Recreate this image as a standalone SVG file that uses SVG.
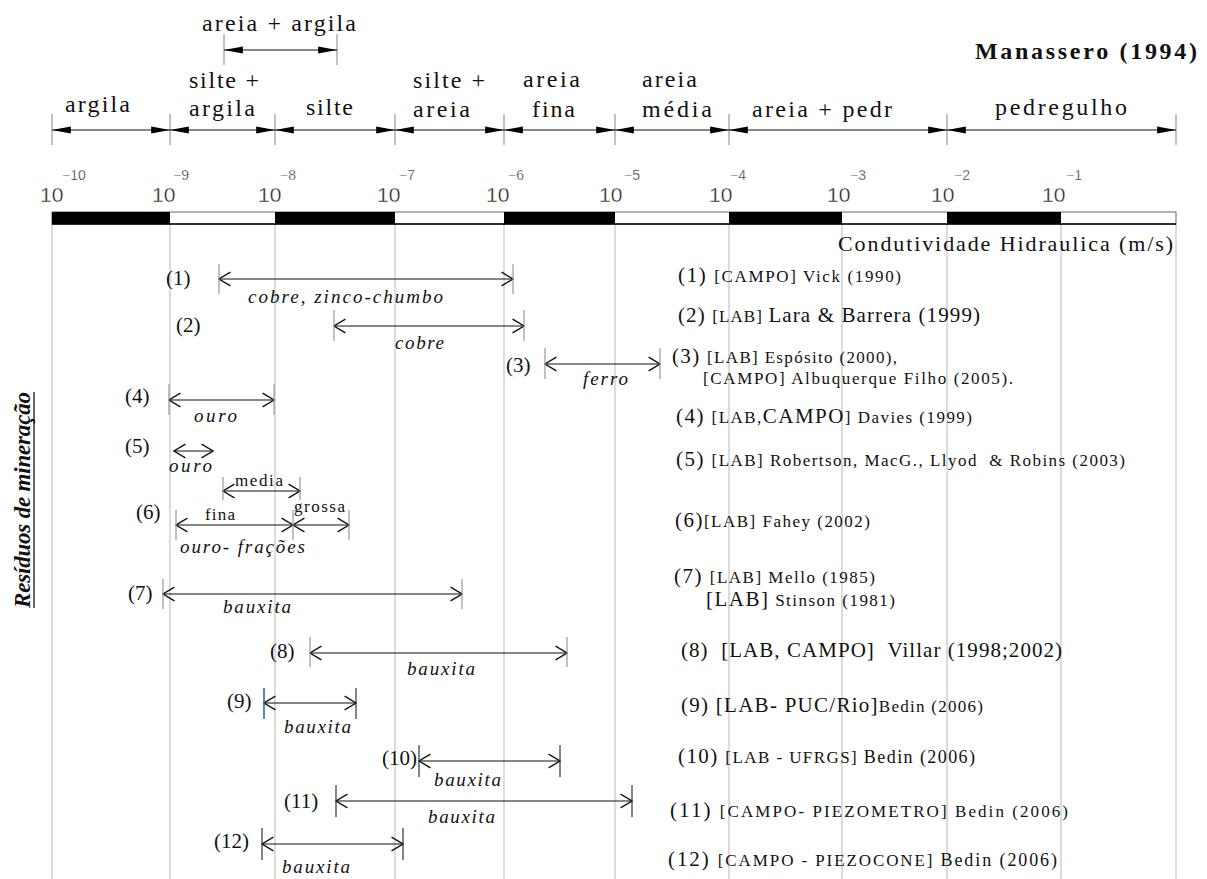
<svg xmlns="http://www.w3.org/2000/svg" width="1207" height="879" viewBox="0 0 1207 879">
<style>
.serif{font-family:"Liberation Serif","Times New Roman",serif;fill:#111}
.top{font-size:24px}
.sans{font-family:"Liberation Sans",Arial,sans-serif;fill:#222;stroke:#fff;stroke-width:0.35px}
.dec{font-size:21px}
.exp{font-size:14px}
.L{font-size:21px}
.S{font-size:17px}
.it{font-style:italic;font-size:19px}
.grid{stroke:#d0d0d0;stroke-width:1.5}
.tick{stroke:#999;stroke-width:1.2}
.dtick{stroke:#333;stroke-width:1.2}
.dim{stroke:#111;stroke-width:1;marker-start:url(#fa);marker-end:url(#fa)}
.rng{stroke:#111;stroke-width:1.2;marker-start:url(#oa);marker-end:url(#oa)}
</style>
<defs>
<marker id="fa" markerUnits="userSpaceOnUse" markerWidth="20" markerHeight="10" refX="16" refY="3.5" orient="auto-start-reverse" viewBox="0 0 17 7">
<path d="M0,0.5 L16,3.5 L0,6.5 Z" fill="#000"/>
</marker>
<marker id="oa" markerUnits="userSpaceOnUse" markerWidth="14" markerHeight="16" refX="11" refY="7" orient="auto-start-reverse" viewBox="0 0 12 14">
<path d="M1,1 L11,7 L1,13" fill="none" stroke="#111" stroke-width="1.2"/>
</marker>
</defs>
<rect width="1207" height="879" fill="#fff"/>

<g id="grid">
<line class="grid" x1="52" y1="224" x2="52" y2="879"/>
<line class="grid" x1="170" y1="224" x2="170" y2="879"/>
<line class="grid" x1="275" y1="224" x2="275" y2="879"/>
<line class="grid" x1="395" y1="224" x2="395" y2="879"/>
<line class="grid" x1="504" y1="224" x2="504" y2="879"/>
<line class="grid" x1="615" y1="224" x2="615" y2="879"/>
<line class="grid" x1="729" y1="224" x2="729" y2="879"/>
<line class="grid" x1="842" y1="224" x2="842" y2="879"/>
<line class="grid" x1="947" y1="224" x2="947" y2="879"/>
<line class="grid" x1="1061" y1="224" x2="1061" y2="879"/>
<line class="grid" x1="1176" y1="224" x2="1176" y2="879"/>
</g>

<g id="scale-bar">
<rect x="52" y="212" width="1124" height="12" fill="#fff" stroke="#666" stroke-width="1"/>
<rect x="52" y="212" width="118" height="12" fill="#000"/>
<rect x="275" y="212" width="120" height="12" fill="#000"/>
<rect x="504" y="212" width="111" height="12" fill="#000"/>
<rect x="729" y="212" width="113" height="12" fill="#000"/>
<rect x="947" y="212" width="114" height="12" fill="#000"/>
<line x1="52" y1="224" x2="1176" y2="224" stroke="#000" stroke-width="1.5"/>
</g>

<g id="scale-labels" class="sans">
<text class="dec" x="40" y="202">10</text><text class="exp" x="62" y="180">−10</text>
<text class="dec" x="152" y="202">10</text><text class="exp" x="173" y="180">−9</text>
<text class="dec" x="258" y="202">10</text><text class="exp" x="280" y="180">−8</text>
<text class="dec" x="377" y="202">10</text><text class="exp" x="399" y="180">−7</text>
<text class="dec" x="486" y="202">10</text><text class="exp" x="508" y="180">−6</text>
<text class="dec" x="599" y="202">10</text><text class="exp" x="624" y="180">−5</text>
<text class="dec" x="709" y="202">10</text><text class="exp" x="730" y="180">−4</text>
<text class="dec" x="827" y="202">10</text><text class="exp" x="850" y="180">−3</text>
<text class="dec" x="931" y="202">10</text><text class="exp" x="954" y="180">−2</text>
<text class="dec" x="1042" y="202">10</text><text class="exp" x="1066" y="180">−1</text>
</g>
<g id="axis-label">
<text class="serif" x="838" y="251" font-size="22" textLength="335">Condutividade Hidraulica (m/s)</text>
</g>

<g id="title">
<text class="serif" x="975" y="59" font-size="24" font-weight="bold" textLength="222">Manassero (1994)</text>
</g>

<g id="soil-classes">
<line class="tick" x1="52" y1="114" x2="52" y2="145"/>
<line class="tick" x1="170" y1="114" x2="170" y2="145"/>
<line class="tick" x1="275" y1="114" x2="275" y2="145"/>
<line class="tick" x1="395" y1="114" x2="395" y2="145"/>
<line class="tick" x1="504" y1="114" x2="504" y2="145"/>
<line class="tick" x1="615" y1="114" x2="615" y2="145"/>
<line class="tick" x1="729" y1="114" x2="729" y2="145"/>
<line class="tick" x1="947" y1="114" x2="947" y2="145"/>
<line class="tick" x1="1176" y1="114" x2="1176" y2="145"/>
<line class="tick" x1="224" y1="34" x2="224" y2="65"/>
<line class="tick" x1="337" y1="34" x2="337" y2="65"/>
<g class="serif top">
<text x="202" y="31" textLength="154">areia + argila</text>
<text x="65" y="112" textLength="65">argila</text>
<text x="189" y="88" textLength="70">silte +</text>
<text x="189" y="116" textLength="66">argila</text>
<text x="306" y="115" textLength="47">silte</text>
<text x="413" y="88" textLength="72">silte +</text>
<text x="413" y="117" textLength="57">areia</text>
<text x="523" y="87" textLength="57">areia</text>
<text x="532" y="117" textLength="43">fina</text>
<text x="642" y="87" textLength="55">areia</text>
<text x="642" y="117" textLength="70">média</text>
<text x="752" y="117" textLength="140">areia + pedr</text>
<text x="995" y="115" textLength="132">pedregulho</text>
</g>
</g>

<g id="connectors">
<line class="dim" x1="224" y1="50" x2="337" y2="50"/>
<line class="dim" x1="52" y1="130" x2="170" y2="130"/>
<line class="dim" x1="170" y1="130" x2="275" y2="130"/>
<line class="dim" x1="275" y1="130" x2="395" y2="130"/>
<line class="dim" x1="395" y1="130" x2="504" y2="130"/>
<line class="dim" x1="504" y1="130" x2="615" y2="130"/>
<line class="dim" x1="615" y1="130" x2="729" y2="130"/>
<line class="dim" x1="729" y1="130" x2="947" y2="130"/>
<line class="dim" x1="947" y1="130" x2="1176" y2="130"/>

<line class="rng" x1="219" y1="279" x2="513" y2="279"/>
<line class="rng" x1="334" y1="326" x2="524" y2="326"/>
<line class="rng" x1="545" y1="364" x2="660" y2="364"/>
<line class="rng" x1="169" y1="400" x2="274" y2="400"/>
<line class="rng" x1="174" y1="451" x2="213" y2="451"/>
<line class="rng" x1="223" y1="491" x2="300" y2="491" stroke-width="2"/>
<line class="rng" x1="176" y1="525" x2="293" y2="525"/>
<line class="rng" x1="293" y1="525" x2="349" y2="525"/>
<line class="rng" x1="163" y1="594" x2="462" y2="594"/>
<line class="rng" x1="310" y1="653" x2="567" y2="653"/>
<line class="rng" x1="264" y1="703" x2="356" y2="703" stroke-width="1.6"/>
<line class="rng" x1="419" y1="761" x2="560" y2="761"/>
<line class="rng" x1="336" y1="801" x2="632" y2="801"/>
<line class="rng" x1="262" y1="844" x2="403" y2="844"/>

<line class="tick" x1="219" y1="264" x2="219" y2="294"/>
<line class="tick" x1="513" y1="264" x2="513" y2="294"/>
<line class="tick" x1="334" y1="310" x2="334" y2="341"/>
<line class="tick" x1="524" y1="310" x2="524" y2="341"/>
<line class="tick" x1="545" y1="348" x2="545" y2="379"/>
<line class="tick" x1="660" y1="348" x2="660" y2="379"/>
<line class="tick" x1="169" y1="384" x2="169" y2="415"/>
<line class="tick" x1="274" y1="384" x2="274" y2="415" stroke-width="2"/>
<line class="tick" x1="223" y1="477" x2="223" y2="500"/>
<line class="tick" x1="300" y1="477" x2="300" y2="500"/>
<line class="tick" x1="176" y1="510" x2="176" y2="540"/>
<line class="tick" x1="293" y1="510" x2="293" y2="540"/>
<line class="tick" x1="349" y1="510" x2="349" y2="540"/>
<line class="tick" x1="163" y1="579" x2="163" y2="609"/>
<line class="tick" x1="462" y1="579" x2="462" y2="609"/>
<line class="tick" x1="310" y1="637" x2="310" y2="667"/>
<line class="tick" x1="567" y1="637" x2="567" y2="667"/>
<line x1="264" y1="688" x2="264" y2="719" stroke="#1f5fb0" stroke-width="1.5"/>
<line class="dtick" x1="356" y1="688" x2="356" y2="719"/>
<line class="dtick" x1="419" y1="745" x2="419" y2="777"/>
<line class="dtick" x1="560" y1="745" x2="560" y2="777"/>
<line class="dtick" x1="336" y1="785" x2="336" y2="817"/>
<line class="dtick" x1="632" y1="785" x2="632" y2="817"/>
<line class="dtick" x1="262" y1="828" x2="262" y2="860"/>
<line class="dtick" x1="403" y1="828" x2="403" y2="860"/>
</g>

<g id="axis-title">
<text class="serif" transform="translate(30,500) rotate(-90)" text-anchor="middle" font-size="23" font-weight="bold" font-style="italic" textLength="216">Resíduos de mineração</text>
<line x1="34" y1="392" x2="34" y2="608" stroke="#000" stroke-width="1.2"/>
</g>

<g id="range-1" class="serif">
<text class="L" x="166" y="285">(1)</text>
<text class="it" x="248" y="303" textLength="195">cobre, zinco-chumbo</text>
</g>
<g id="range-2" class="serif">
<text class="L" x="176" y="332">(2)</text>
<text class="it" x="395" y="349" textLength="49">cobre</text>
</g>
<g id="range-3" class="serif">
<text class="L" x="506" y="372">(3)</text>
<text class="it" x="583" y="385" textLength="45">ferro</text>
</g>
<g id="range-4" class="serif">
<text class="L" x="125" y="403">(4)</text>
<text class="it" x="194" y="422" textLength="43">ouro</text>
</g>
<g id="range-5" class="serif">
<text class="L" x="125" y="453">(5)</text>
<text class="it" x="169" y="472" textLength="43">ouro</text>
</g>
<g id="range-6" class="serif">
<text class="S" x="235" y="486" textLength="48">media</text>
<text class="L" x="136" y="519">(6)</text>
<text class="S" x="205" y="520" textLength="30">fina</text>
<text class="S" x="294" y="512" textLength="51">grossa</text>
<text class="it" x="180" y="553" textLength="125">ouro- frações</text>
</g>
<g id="range-7" class="serif">
<text class="L" x="128" y="600">(7)</text>
<text class="it" x="223" y="613" textLength="68">bauxita</text>
</g>
<g id="range-8" class="serif">
<text class="L" x="270" y="658">(8)</text>
<text class="it" x="407" y="675" textLength="68">bauxita</text>
</g>
<g id="range-9" class="serif">
<text class="L" x="227" y="708">(9)</text>
<text class="it" x="284" y="733" textLength="67">bauxita</text>
</g>
<g id="range-10" class="serif">
<text class="L" x="382" y="765">(10)</text>
<text class="it" x="434" y="786" textLength="67">bauxita</text>
</g>
<g id="range-11" class="serif">
<text class="L" x="284" y="808">(11)</text>
<text class="it" x="428" y="823" textLength="67">bauxita</text>
</g>
<g id="range-12" class="serif">
<text class="L" x="214" y="848">(12)</text>
<text class="it" x="282" y="873" textLength="68">bauxita</text>
</g>

<g id="legend" class="serif">
<text x="678" y="282" textLength="223"><tspan class="L">(1) </tspan><tspan class="S">[CAMPO] Vick (1990)</tspan></text>
<text x="678" y="322" textLength="302"><tspan class="L">(2) </tspan><tspan class="S">[LAB] </tspan><tspan class="L">Lara &amp; Barrera (1999)</tspan></text>
<text x="672" y="363" textLength="225"><tspan class="L">(3) </tspan><tspan class="S">[LAB] Espósito (2000),</tspan></text>
<text class="S" x="703" y="384" textLength="310">[CAMPO] Albuquerque Filho (2005).</text>
<text x="676" y="423" textLength="296"><tspan class="L">(4) </tspan><tspan class="S">[LAB,</tspan><tspan class="L">CAMPO</tspan><tspan class="S">] Davies (1999)</tspan></text>
<text x="676" y="466" textLength="449"><tspan class="L">(5) </tspan><tspan class="S">[LAB] Robertson, MacG., Llyod &#160;&amp; Robins (2003)</tspan></text>
<text x="675" y="527" textLength="195"><tspan class="L">(6)</tspan><tspan class="S">[LAB] Fahey (2002)</tspan></text>
<text x="674" y="583" textLength="201"><tspan class="L">(7) </tspan><tspan class="S">[LAB] Mello (1985)</tspan></text>
<text x="706" y="606" textLength="189"><tspan class="L">[LAB]</tspan><tspan class="S"> Stinson (1981)</tspan></text>
<text class="L" x="681" y="657" textLength="381">(8) &#160;[LAB, CAMPO] &#160;Villar (1998;2002)</text>
<text x="681" y="712" textLength="302"><tspan class="L">(9) [LAB- PUC/Rio]</tspan><tspan class="S">Bedin (2006)</tspan></text>
<text x="678" y="763" textLength="297"><tspan class="L">(10) </tspan><tspan class="S">[LAB - UFRGS] </tspan><tspan font-size="18">Bedin (2006)</tspan></text>
<text x="670" y="817" textLength="398"><tspan class="L">(11) </tspan><tspan class="S">[CAMPO- PIEZOMETRO] Bedin (2006)</tspan></text>
<text x="668" y="866" textLength="389"><tspan class="L">(12) </tspan><tspan class="S">[CAMPO - PIEZOCONE] </tspan><tspan font-size="18">Bedin (2006)</tspan></text>
</g>
</svg>
